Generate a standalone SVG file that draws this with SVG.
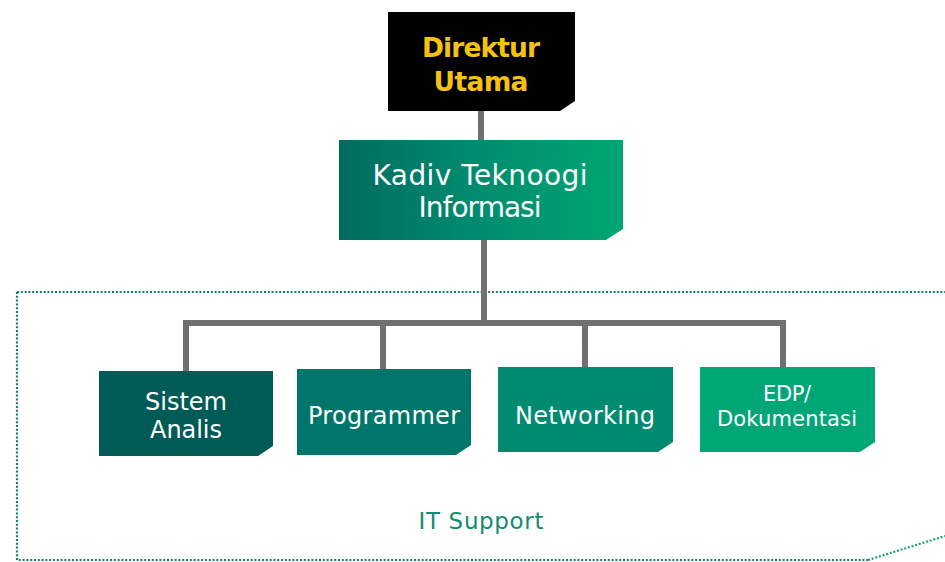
<svg xmlns="http://www.w3.org/2000/svg" width="945" height="562" viewBox="0 0 945 562">
<defs>
<linearGradient id="g1" x1="0" y1="0" x2="1" y2="0">
<stop offset="0" stop-color="#006B60"/>
<stop offset="0.45" stop-color="#008A6E"/>
<stop offset="1" stop-color="#00A674"/>
</linearGradient>
<style>
.t{font-family:"DejaVu Sans","Open Sans",sans-serif;fill:#fff;text-anchor:middle}
.ln{stroke:#707070;stroke-width:6;fill:none}
.dot{fill:none;stroke-width:2.2;stroke-dasharray:2 1.8}
</style>
</defs>
<rect width="945" height="562" fill="#fff"/>
<g id="it-support-frame">
<path class="dot" stroke="#117F6E" d="M17 292 H945 M17 292 V560 H868"/>
<path class="dot" stroke="#19A07A" d="M868 560 L945 536"/>
<text class="t" x="481" y="529" textLength="125" lengthAdjust="spacing" style="font-size:23px;fill:#128C6E">IT Support</text>
</g>
<g id="connectors">
<path class="ln" d="M481 110 V140 M484 240 V323 M186 323 H786 M186 320 V371 M383 320 V369 M585 320 V367 M783 320 V367"/>
</g>
<g id="direktur">
<path d="M388 12 H575 V101 L560 111 H388 Z" fill="#000"/>
<text class="t" x="481" y="57" textLength="118" lengthAdjust="spacing" style="font-size:26.5px;font-weight:700;fill:#F5C211">Direktur</text>
<text class="t" x="481" y="91" textLength="95" lengthAdjust="spacing" style="font-size:26.5px;font-weight:700;fill:#F5C211">Utama</text>
</g>
<g id="kadiv">
<path d="M339 140 H623 V229 L606 240 H339 Z" fill="url(#g1)"/>
<text class="t" x="480" y="185" textLength="215" lengthAdjust="spacing" style="font-size:28px">Kadiv Teknoogi</text>
<text class="t" x="480" y="217" textLength="123" lengthAdjust="spacing" style="font-size:28px">Informasi</text>
</g>
<g id="sistem-analis">
<path d="M99 371 H273 V446 L258 456 H99 Z" fill="#005A56"/>
<text class="t" x="186" y="410" textLength="82" lengthAdjust="spacing" style="font-size:24px">Sistem</text>
<text class="t" x="186" y="438" textLength="72" lengthAdjust="spacing" style="font-size:24px">Analis</text>
</g>
<g id="programmer">
<path d="M297 369 H471 V445 L456 455 H297 Z" fill="#00756A"/>
<text class="t" x="384" y="424" textLength="152" lengthAdjust="spacing" style="font-size:24px">Programmer</text>
</g>
<g id="networking">
<path d="M498 367 H673 V442 L658 452 H498 Z" fill="#008A70"/>
<text class="t" x="585" y="424" textLength="140" lengthAdjust="spacing" style="font-size:24px">Networking</text>
</g>
<g id="edp">
<path d="M700 367 H875 V442 L860 452 H700 Z" fill="#00A676"/>
<text class="t" x="787" y="401" textLength="48" lengthAdjust="spacing" style="font-size:21px">EDP/</text>
<text class="t" x="787" y="426" textLength="140" lengthAdjust="spacing" style="font-size:21px">Dokumentasi</text>
</g>
</svg>
